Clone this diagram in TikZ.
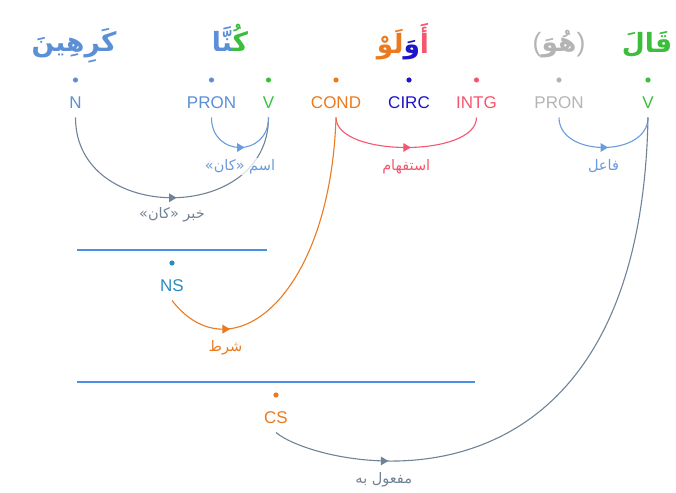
\documentclass[tikz,border=0pt]{standalone}
\usepackage{fontspec}
\setmainfont{Liberation Sans}
\newfontfamily\arabicfont[Script=Arabic]{DejaVu Sans}
\TeXXeTstate=1

% palette
\definecolor{nblue}{HTML}{5B8FD6}
\definecolor{vgreen}{HTML}{3CBE3C}
\definecolor{condor}{HTML}{EB7A1E}
\definecolor{circb}{HTML}{1E14C8}
\definecolor{intgr}{HTML}{F5566E}
\definecolor{prgray}{HTML}{B4B4B4}
\definecolor{nsteal}{HTML}{2A8CBE}
\definecolor{slate}{HTML}{708296}
\definecolor{rulecol}{HTML}{4A90E2}
\definecolor{arcblue}{HTML}{6A9BDC}

% filled arrowhead pointing right, centred on a point of an arc
\newcommand\arrowat[2]{\fill[#1] ([shift={(-3pt,4.5pt)}]#2) -- ([shift={(4.5pt,0pt)}]#2) -- ([shift={(-3pt,-4.5pt)}]#2) -- cycle;}
% one coloured piece of an Arabic word, set right to left
\newcommand\arpiece[2]{\textcolor{#1}{\beginR #2\endR}}

\begin{document}
\begin{tikzpicture}[x=1pt,y=-1pt,
  word/.style={font=\arabicfont\bfseries\fontsize{26.5}{30}\selectfont, inner sep=0pt, anchor=base},
  tag/.style={font=\fontsize{17}{20}\selectfont, inner sep=0pt, anchor=base},
  dot/.style={circle, fill, inner sep=0pt, minimum size=5.2pt},
  rel/.style={font=\arabicfont\fontsize{14.5}{17}\selectfont, inner sep=1pt},
  arc/.style={line width=1.1pt},
  hrule/.style={rulecol, line width=1.2pt}]
\useasboundingbox (0,0) rectangle (676,492);

% words (coloured pieces laid out from left to right; joins kept with ZWJ)
\node[word, text=nblue] (w1) at (74,52) {\beginR كَرِهِينَ\endR};
\node[word] (w2) at (230,52) {\arpiece{nblue}{^^^^200dنَّا}\arpiece{vgreen}{كُ^^^^200d}};
\node[word] (w3) at (403,54) {\arpiece{condor}{لَوْ}\arpiece{circb}{وَ}\arpiece{intgr}{أَ}};
\node[word, text=prgray] (w4) at (559,52) {{\normalfont\mdseries(}\beginR هُوَ\endR{\normalfont\mdseries)}};
\node[word, text=vgreen] (w5) at (647,53) {\beginR قَالَ\endR};

% segment dots and tags
\node[dot, nblue]  (d1) at (75.5,80) {};  \node[tag, text=nblue]  (t1) at (75.5,108) {N};
\node[dot, nblue]  (d2) at (211.5,80) {}; \node[tag, text=nblue]  (t2) at (211.5,108) {PRON};
\node[dot, vgreen] (d3) at (268.5,80) {}; \node[tag, text=vgreen] (t3) at (268.5,108) {V};
\node[dot, condor] (d4) at (336,80) {};   \node[tag, text=condor] (t4) at (336,108) {COND};
\node[dot, circb]  (d5) at (409,80) {};   \node[tag, text=circb]  (t5) at (409,108) {CIRC};
\node[dot, intgr]  (d6) at (476.5,80) {}; \node[tag, text=intgr]  (t6) at (476.5,108) {INTG};
\node[dot, prgray] (d7) at (559,80) {};   \node[tag, text=prgray] (t7) at (559,108) {PRON};
\node[dot, vgreen] (d8) at (648,80) {};   \node[tag, text=vgreen] (t8) at (648,108) {V};

% hidden phrase nodes
\draw[hrule] (77,250) -- (267,250);
\node[dot, nsteal] (dns) at (172,263) {}; \node[tag, text=nsteal] (tns) at (172,291) {NS};
\draw[hrule] (77,382) -- (475,382);
\node[dot, condor] (dcs) at (276,395) {}; \node[tag, text=condor] (tcs) at (276,423) {CS};

% khabar kana
\draw[arc, slate] ([yshift=-9.5pt]t1.base) .. controls +(0,107) and +(0,107) .. ([yshift=-9.5pt]t3.base) coordinate[pos=0.5] (m2);
\arrowat{slate}{m2}
\node[rel, text=slate] (r2) at ([yshift=-17pt]m2) {\beginR خبر «كان»\endR};

% ism kana
\draw[arc, arcblue] ([yshift=-9.5pt]t2.base) .. controls +(0,40) and +(0,40) .. ([yshift=-9.5pt]t3.base) coordinate[pos=0.5] (m1);
\arrowat{arcblue}{m1}
\node[rel, text=arcblue, fill=white, fill opacity=0.75, text opacity=1] (r1) at ([yshift=-19pt]m1) {\beginR اسم «كان»\endR};

% istifham
\draw[arc, intgr] ([yshift=-9.5pt]t4.base) .. controls +(0,40) and +(0,40) .. ([yshift=-9.5pt]t6.base) coordinate[pos=0.5] (m3);
\arrowat{intgr}{m3}
\node[rel, text=intgr] (r3) at ([yshift=-19pt]m3) {\beginR استفهام\endR};

% fa'il
\draw[arc, arcblue] ([yshift=-9.5pt]t7.base) .. controls +(0,40) and +(0,40) .. ([yshift=-9.5pt]t8.base) coordinate[pos=0.5] (m4);
\arrowat{arcblue}{m4}
\node[rel, text=arcblue] (r4) at ([yshift=-19pt]m4) {\beginR فاعل\endR};

% shart
\draw[arc, condor] ([yshift=-9.5pt]tns.base) .. controls +(58,75) and +(-6,182) .. ([yshift=-9.5pt]t4.base) coordinate[pos=0.27] (m5);
\arrowat{condor}{m5}
\node[rel, text=condor] (r5) at ([yshift=-19pt]m5) {\beginR شرط\endR};

% maf'ul bihi
\draw[arc, slate] ([yshift=-9.5pt]tcs.base) .. controls +(44,37) and +(-8,422) .. ([yshift=-9.5pt]t8.base) coordinate[pos=0.32] (m6);
\arrowat{slate}{m6}
\node[rel, text=slate] (r6) at ([yshift=-19pt]m6) {\beginR مفعول به\endR};
\end{tikzpicture}
\end{document}
